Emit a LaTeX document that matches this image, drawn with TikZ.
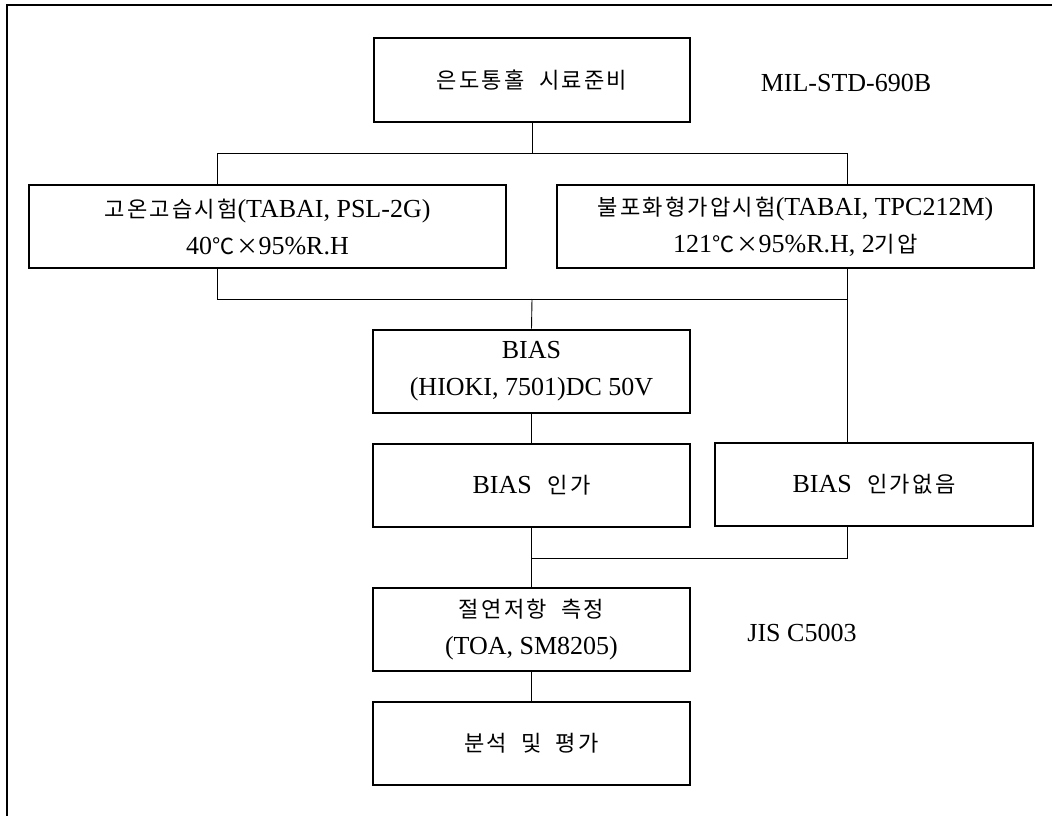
\documentclass[tikz,border=0pt]{standalone}
\usepackage{fontspec}
\setmainfont{Liberation Serif}
\newfontfamily\kr{Noto Sans CJK KR}[Scale=0.85, LetterSpace=10, WordSpace=2]
\begin{document}
\begin{tikzpicture}[x=1pt,y=-1pt,
  every node/.style={font=\fontsize{26}{37}\selectfont, align=center, inner sep=0pt},
  box/.style={draw, line width=2.8pt, minimum height=83pt},
  conn/.style={line width=0.9pt},
  frameline/.style={line width=2pt}]
\useasboundingbox (0,0) rectangle (1055,816);
% frame
\coordinate (f0) at (7,816);
\coordinate (f1) at (7,5);
\coordinate (f2) at (1052,5);
\draw[frameline] (f0) -- (f1) -- (f2);
% boxes
\node[box, minimum width=316pt, minimum height=84pt] (T) at (532,80) {{\kr 은도통홀 시료준비}};
\node[box, minimum width=477pt] (L) at (267.5,226.5) {{\kr 고온고습시험}(TABAI, PSL-2G)\\40{\kr ℃×}95\%R.H};
\node[box, minimum width=477pt] (R) at (795.5,226.5) {{\kr 불포화형가압시험}(TABAI, TPC212M)\\121{\kr ℃×}95\%R.H, 2{\kr 기압}};
\node[box, minimum width=317pt] (B) at (531.5,371.5) {BIAS\\(HIOKI, 7501)DC 50V};
\node[box, minimum width=317pt] (BI) at (531.5,485.5) {BIAS\hspace{0.6em}{\kr 인가}};
\node[box, minimum width=318pt] (BN) at (874,484.5) {BIAS\hspace{0.6em}{\kr 인가없음}};
\node[box, minimum width=317pt] (M) at (531.5,629.5) {{\kr 절연저항 측정}\\(TOA, SM8205)};
\node[box, minimum width=317pt] (A) at (531.5,743.5) {{\kr 분석 및 평가}};
% side labels
\node (mil) at (846,83) {MIL-STD-690B};
\node (jis) at (802,633) {JIS C5003};
% connector helpers
\coordinate (xl) at (217,0);
\coordinate (xr) at (847,0);
\coordinate (j1) at (532,153);
\coordinate (j2) at (532,299);
\coordinate (j3) at (532,558);
% connectors
\draw[conn] (T.south) -- (j1);
\draw[conn] (L.north -| xl) -- (xl |- j1) -- (xr |- j1) -- (R.north -| xr);
\draw[conn] (L.south -| xl) -- (xl |- j2) -- (xr |- j2);
\draw[conn] (R.south -| xr) -- (BN.north -| xr);
\draw[conn] (j2) -- (B.north);
\draw[conn] (B.south) -- (BI.north);
\draw[conn] (BI.south) -- (M.north);
\draw[conn] (BN.south -| xr) -- (xr |- j3) -- (j3);
\draw[conn] (M.south) -- (A.north);
\end{tikzpicture}
\end{document}
